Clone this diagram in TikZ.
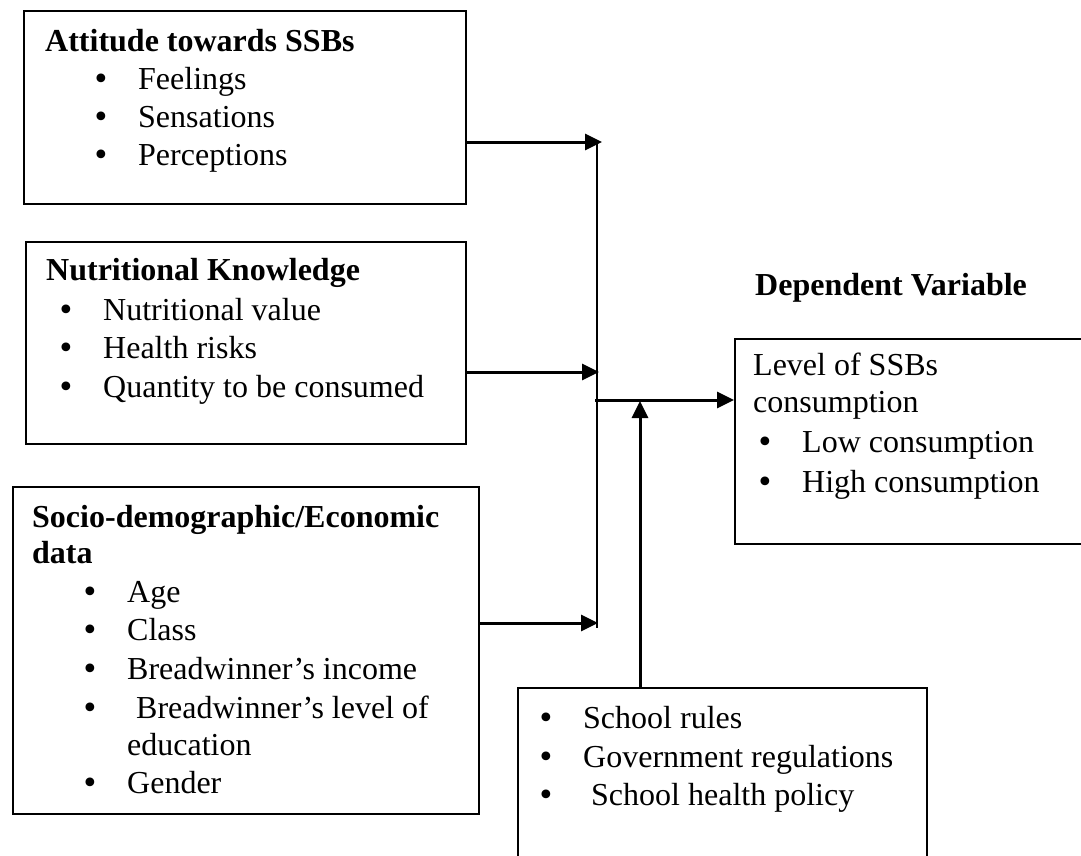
\documentclass[tikz,border=0pt]{standalone}
\usepackage{fontspec}
\setmainfont{Liberation Serif}
\newfontfamily\bulfont{DejaVu Sans}
\usetikzlibrary{arrows.meta}

\newcommand{\bul}{\makebox[46pt][l]{\bulfont\fontsize{30}{36}\selectfont •}}

\begin{document}
\begin{tikzpicture}[x=1pt, y=-1pt, >={Triangle[length=17pt, width=16pt]},
  font=\fontsize{32}{38}\selectfont,
  box/.style={draw=black, line width=2pt, inner sep=0pt, anchor=north west},
  txt/.style={inner sep=0pt, anchor=base west},
  hd/.style={txt, font=\fontsize{32}{38}\selectfont\bfseries},
  ln/.style={line width=2.2pt},
  arr/.style={->, line width=3pt}]
\path[use as bounding box, clip] (0,0) rectangle (1081,855);
% boxes
\node[box, minimum width=442pt, minimum height=193pt] (att) at (23,10) {};
\node[box, minimum width=440pt, minimum height=202pt] (nut) at (25,241) {};
\node[box, minimum width=466pt, minimum height=327pt] (soc) at (12,486) {};
\node[box, minimum width=400pt, minimum height=205pt] (dep) at (734,338) {};
\node[box, minimum width=409pt, minimum height=250pt] (pol) at (517,687) {};
% attitude
\node[hd] (att0) at (45,51) {Attitude towards SSBs};
\node[txt] (att1) at (92,89) {\bul Feelings};
\node[txt] (att2) at (92,127) {\bul Sensations};
\node[txt] (att3) at (92,165) {\bul Perceptions};
% knowledge
\node[hd] (nut0) at (46,280) {Nutritional Knowledge};
\node[txt] (nut1) at (57,320) {\bul Nutritional value};
\node[txt] (nut2) at (57,358) {\bul Health risks};
\node[txt] (nut3) at (57,397) {\bul Quantity to be consumed};
% socio-demographic
\node[hd] (soc0) at (32,527) {Socio-demographic/Economic};
\node[hd] (soc1) at (32,563) {data};
\node[txt] (soc2) at (81,602) {\bul Age};
\node[txt] (soc3) at (81,640) {\bul Class};
\node[txt] (soc4) at (81,679) {\bul Breadwinner’s income};
\node[txt] (soc5) at (81,718) {\bul\hspace{9pt}Breadwinner’s level of};
\node[txt] (soc6) at (127,755) {education};
\node[txt] (soc7) at (81,793) {\bul Gender};
% dependent variable
\node[hd] (dep0) at (755,295) {Dependent Variable};
\node[txt] (dep1) at (753,375) {Level of SSBs};
\node[txt] (dep2) at (753,412) {consumption};
\node[txt] (dep3) at (756,452) {\bul Low consumption};
\node[txt] (dep4) at (756,492) {\bul High consumption};
% policy
\node[txt] (pol1) at (537,728) {\bul School rules};
\node[txt] (pol2) at (537,767) {\bul Government regulations};
\node[txt] (pol3) at (537,805) {\bul\hspace{8pt}School health policy};
% connectors
\coordinate (j1) at (602,142);
\coordinate (j2) at (599,372);
\coordinate (j3) at (598,623);
\coordinate (jt) at (597,142);
\coordinate (jb) at (597,628);
\coordinate (jm) at (595,400);
\coordinate (ju) at (640,401);
\draw[ln] (jt) -- (jb);
\draw[arr] (att.east |- j1) -- (j1);
\draw[arr] (nut.east |- j2) -- (j2);
\draw[arr] (soc.east |- j3) -- (j3);
\draw[arr] (jm) -- (dep.west |- jm);
\draw[arr] (pol.north -| ju) -- (ju);
\end{tikzpicture}
\end{document}
